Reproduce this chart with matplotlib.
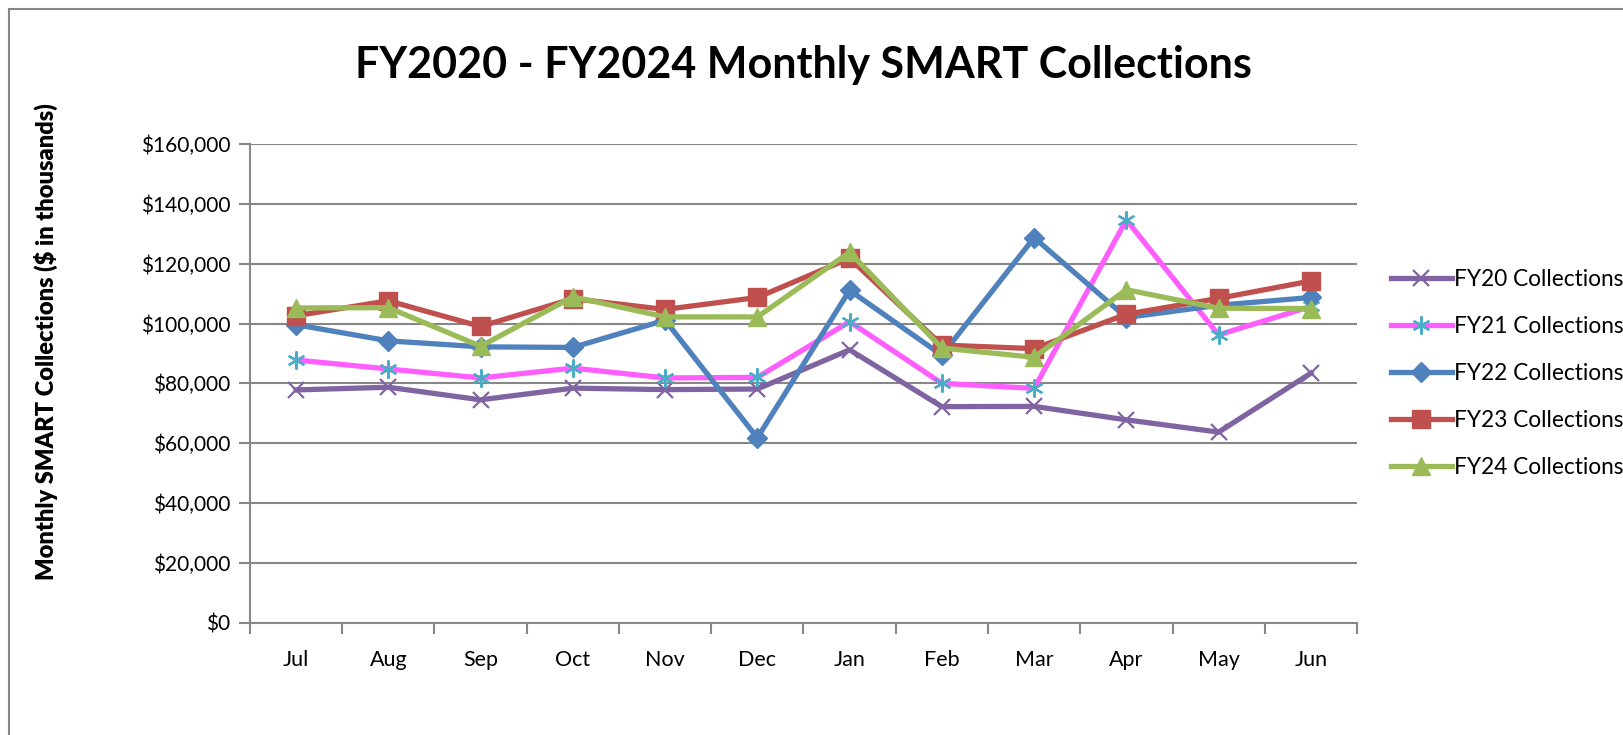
import numpy as np
import matplotlib.pyplot as plt
from matplotlib.patches import Rectangle
from matplotlib.ticker import FuncFormatter

months = ['Jul', 'Aug', 'Sep', 'Oct', 'Nov', 'Dec', 'Jan', 'Feb', 'Mar', 'Apr', 'May', 'Jun']
fy20 = [77800, 78700, 74500, 78400, 77900, 78100, 91200, 72200, 72300, 67800, 63700, 83400]
fy21 = [87800, 84800, 81800, 85100, 81800, 82000, 100600, 80000, 78300, 134600, 96200, 105700]
fy22 = [99600, 94200, 92200, 92000, 101100, 61800, 111100, 89400, 128700, 102000, 106100, 108700]
fy23 = [102600, 107600, 99000, 108300, 104700, 108700, 121800, 92800, 91600, 103100, 108400, 114200]
fy24 = [105200, 105300, 92400, 108900, 102200, 102200, 123800, 91800, 88700, 111300, 105100, 105000]

plt.rcParams['font.family'] = ['Lato', 'DejaVu Sans']

fig = plt.figure(figsize=(16.24, 7.35), dpi=100)
ax = fig.add_axes([0.1539, 0.1528, 0.6817, 0.6513])

# outer chart border (cut off at right and bottom like the original)
fig.patches.append(Rectangle((9 / 1624, -0.1), 1.2, 1 - 9 / 735 + 0.1,
                             transform=fig.transFigure, fill=False,
                             edgecolor='#878787', linewidth=1.5))

x = np.arange(len(months))
lw = 3.8
ax.plot(x, fy20, color='#8064A2', lw=lw, marker='x', ms=11, mew=1.6,
        mec='#8064A2', label='FY20 Collections')
ax.plot(x, fy21, color='#FF5EFF', lw=lw, marker=(6, 2, 0), ms=13, mew=1.6,
        mec='#4BACC6', label='FY21 Collections')
ax.plot(x, fy22, color='#4F81BD', lw=lw, marker='D', ms=10,
        mfc='#4F81BD', mec='#4F81BD', label='FY22 Collections')
ax.plot(x, fy23, color='#C0504D', lw=lw, marker='s', ms=13,
        mfc='#C0504D', mec='#C0504D', label='FY23 Collections')
ax.plot(x, fy24, color='#9BBB59', lw=lw, marker='^', ms=13,
        mfc='#9BBB59', mec='#9BBB59', label='FY24 Collections')

ax.set_xlim(-0.5, len(months) - 0.5)
ax.set_ylim(0, 160000)
ax.set_yticks(np.arange(0, 160001, 20000))
ax.yaxis.set_major_formatter(FuncFormatter(lambda v, p: '${:,.0f}'.format(v)))
ax.set_xticks(x)
ax.set_xticklabels(months)
ax.set_xticks(np.arange(-0.5, len(months), 1), minor=True)
ax.tick_params(axis='x', which='major', length=0, pad=20, labelsize=15.5)
ax.tick_params(axis='x', which='minor', length=8, width=1.5, color='#878787')
ax.tick_params(axis='y', length=8, width=1.5, color='#878787', pad=6, labelsize=15)

ax.grid(axis='y', color='#878787', lw=1.5)
ax.set_axisbelow(True)
for s in ['top', 'right']:
    ax.spines[s].set_visible(False)
for s in ['left', 'bottom']:
    ax.spines[s].set_color('#878787')
    ax.spines[s].set_linewidth(1.5)

fig.text(0.495, 0.912, 'FY2020 - FY2024 Monthly SMART Collections',
         ha='center', va='center', fontsize=31, fontweight='bold')
fig.text(0.028, 0.535, 'Monthly SMART Collections ($ in thousands)',
         ha='center', va='center', rotation=90, fontsize=17, fontweight='heavy')

ax.legend(loc='center left', bbox_to_anchor=(1.012, 0.52), frameon=False,
          fontsize=16.3, handlelength=2.7, handletextpad=0.1, labelspacing=1.15)

fig.savefig('out.png', dpi=100)
